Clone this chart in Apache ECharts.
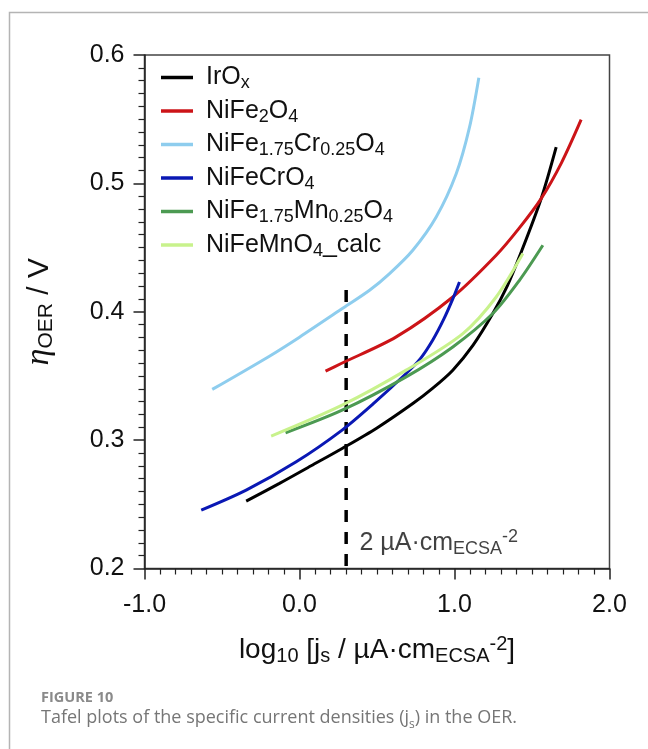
<!DOCTYPE html>
<html>
<head>
<meta charset="utf-8">
<script src="https://cdn.jsdelivr.net/npm/echarts@6/dist/echarts.min.js"></script>
<style>
  html, body { margin: 0; padding: 0; background: #fff; }
  #chart { width: 648px; height: 749px; }
</style>
</head>
<body>
<div id="chart"></div>
<script>
// series data: [log10 js, eta / V]
const irox = [[-0.344, 0.2525], [-0.129, 0.2663], [0.075, 0.28], [0.275, 0.2935], [0.5, 0.3095],
  [0.731, 0.3285], [0.86, 0.3405], [0.989, 0.3545], [1.12, 0.374], [1.247, 0.3986], [1.34, 0.42],
  [1.419, 0.443], [1.559, 0.4881], [1.656, 0.5282]]
const nife2o4 = [[0.168, 0.3537], [0.269, 0.3597], [0.624, 0.3804], [0.989, 0.4115], [1.269, 0.444],
  [1.42, 0.4655], [1.559, 0.4881], [1.69, 0.516], [1.817, 0.5496]]
const nifeCr025 = [[-0.563, 0.3395], [-0.194, 0.3654], [0.0, 0.3802], [0.269, 0.4019], [0.452, 0.4167],
  [0.581, 0.4297], [0.731, 0.4479], [0.882, 0.4738], [1.011, 0.5075], [1.097, 0.5438], [1.157, 0.5823]]
const nifecro4 = [[-0.634, 0.2455], [-0.344, 0.2611], [-0.021, 0.2831], [0.275, 0.3078], [0.473, 0.328],
  [0.688, 0.3519], [0.78, 0.3635], [0.86, 0.378], [0.93, 0.394], [0.989, 0.41], [1.032, 0.4232]]
const nifeMn025 = [[-0.09, 0.3057], [0.275, 0.3233], [0.688, 0.3493], [0.989, 0.3726], [1.247, 0.3986],
  [1.419, 0.4245], [1.57, 0.4518]]
const nifemnCalc = [[-0.183, 0.3031], [0.275, 0.3272], [0.688, 0.3545], [1.054, 0.383], [1.269, 0.4115],
  [1.441, 0.4453]]

// 2 uA/cm2 reference line
const refLine = [[0.301, 0.417], [0.301, 0.2]]
const refLabelAt = [[0.387, 0.22]]

const xTicks = { min: -1, max: 2, interval: 1 }
const yTicks = { min: 0.2, max: 0.6, interval: 0.1 }

const names = ['IrOx', 'NiFe2O4', 'NiFe1.75Cr0.25O4', 'NiFeCrO4', 'NiFe1.75Mn0.25O4', 'NiFeMnO4_calc']
const colors = ['#000000', '#cc1418', '#8ecdee', '#0a18b4', '#4c9a52', '#c8f28c']
const values = [irox, nife2o4, nifeCr025, nifecro4, nifeMn025, nifemnCalc]

const legendRich = {
  'IrOx': '{m|IrO}{s|x}',
  'NiFe2O4': '{m|NiFe}{s|2}{m|O}{s|4}',
  'NiFe1.75Cr0.25O4': '{m|NiFe}{s|1.75}{m|Cr}{s|0.25}{m|O}{s|4}',
  'NiFeCrO4': '{m|NiFeCrO}{s|4}',
  'NiFe1.75Mn0.25O4': '{m|NiFe}{s|1.75}{m|Mn}{s|0.25}{m|O}{s|4}',
  'NiFeMnO4_calc': '{m|NiFeMnO}{s|4}{m|_calc}'
}

const FONT = '"Liberation Sans", Arial, sans-serif'
// sub/superscripts: small line box pushed to bottom/top of the line
function richSet(big, small, lh) {
  return {
    m: { fontSize: big, lineHeight: lh, fontFamily: FONT, color: '#111' },
    g: { fontSize: big + 4, lineHeight: lh, fontFamily: '"Liberation Serif", serif', fontStyle: 'italic', color: '#111' },
    s: { fontSize: small, lineHeight: 14, verticalAlign: 'bottom', fontFamily: FONT, color: '#111' },
    u: { fontSize: small, lineHeight: 14, verticalAlign: 'top', fontFamily: FONT, color: '#111' }
  }
}

let elChart = echarts.init(document.getElementById('chart'))

let seriesList = values.map(function (d, i) {
  return {
    name: names[i],
    type: 'line',
    data: d,
    smooth: 0.3,
    symbol: 'none',
    showSymbol: false,
    lineStyle: { color: colors[i], width: 3 },
    itemStyle: { color: colors[i] },
    z: 3
  }
})
seriesList.push({
  name: 'ref',
  type: 'line',
  data: refLine,
  symbol: 'none',
  lineStyle: { color: '#000', width: 3.5, type: [12, 10] },
  z: 2
})
seriesList.push({
  name: 'refLabel',
  type: 'scatter',
  data: refLabelAt,
  symbolSize: 0,
  label: {
    show: true,
    position: 'right',
    distance: 0,
    color: '#111',
    formatter: '{m|2 µA·cm}{s|ECSA}{u|-2}',
    rich: richSet(25, 18, 30)
  },
  emphasis: { disabled: true },
  silent: true
})

let optionData = {
  animation: false,
  backgroundColor: '#fff',
  grid: {
    left: 144.5, right: 38.5, top: 55, bottom: 180.5,
    show: true, borderColor: '#444', borderWidth: 1.5,
    backgroundColor: 'transparent',
    outerBoundsMode: 'none'
  },
  legend: {
    data: names,
    orient: 'vertical',
    left: 156, top: 60,
    icon: 'rect',
    itemWidth: 32, itemHeight: 3.5, itemGap: 6,
    selectedMode: false,
    formatter: function (n) { return legendRich[n] },
    textStyle: { color: '#111', padding: [0, 0, 0, 8], rich: richSet(25, 18, 30) }
  },
  xAxis: {
    type: 'value',
    min: xTicks.min, max: xTicks.max, interval: xTicks.interval,
    axisLine: { show: true, onZero: false, lineStyle: { color: '#222', width: 1.5 } },
    axisTick: { show: true, length: 11, lineStyle: { color: '#222', width: 1.5 } },
    minorTick: { show: true, splitNumber: 10, length: 6, lineStyle: { color: '#222', width: 1.2 } },
    splitLine: { show: false },
    axisLabel: {
      fontSize: 25, fontFamily: FONT, color: '#111', margin: 24,
      showMinLabel: true, showMaxLabel: true,
      formatter: function (v) { return v.toFixed(1) }
    },
    name: '{m|log}{s|10}{m| [j}{s|s}{m| / µA·cm}{s|ECSA}{u|-2}{m|]}',
    nameLocation: 'middle',
    nameGap: 66,
    nameTextStyle: { color: '#111', rich: richSet(28, 20, 32) }
  },
  yAxis: {
    type: 'value',
    min: yTicks.min, max: yTicks.max, interval: yTicks.interval,
    axisLine: { show: true, onZero: false, lineStyle: { color: '#222', width: 1.5 } },
    axisTick: { show: true, length: 11, lineStyle: { color: '#222', width: 1.5 } },
    minorTick: { show: true, splitNumber: 10, length: 6, lineStyle: { color: '#222', width: 1.2 } },
    splitLine: { show: false },
    axisLabel: {
      fontSize: 25, fontFamily: FONT, color: '#111', margin: 20,
      showMinLabel: true, showMaxLabel: true,
      formatter: function (v) { return v.toFixed(1) }
    },
    name: '{g|η}{s|OER}{m| / V}',
    nameLocation: 'middle',
    nameRotate: 90,
    nameGap: 88,
    nameTextStyle: { color: '#111', rich: richSet(30, 21, 34) }
  },
  graphic: [
    { type: 'polyline', shape: { points: [[9.5, 749], [9.5, 12.5], [648, 12.5]] },
      style: { stroke: '#b4b4b4', lineWidth: 1.5, fill: null }, silent: true },
    { type: 'text', left: 41, top: 690,
      style: { text: 'FIGURE 10', font: 'bold 14.5px "Open Sans", sans-serif', fill: '#8a8a8a' } },
    { type: 'text', left: 41, top: 709,
      style: {
        text: '{c|Tafel plots of the specific current densities (j}{d|s}{c|) in the OER.}',
        rich: {
          c: { fontSize: 18, lineHeight: 26, fontFamily: '"Open Sans", sans-serif', fill: '#767676' },
          d: { fontSize: 12, lineHeight: 16, verticalAlign: 'bottom', fontFamily: '"Open Sans", sans-serif', fill: '#767676' }
        }
      } }
  ],
  series: seriesList
}

elChart.setOption(optionData)
</script>
</body>
</html>
